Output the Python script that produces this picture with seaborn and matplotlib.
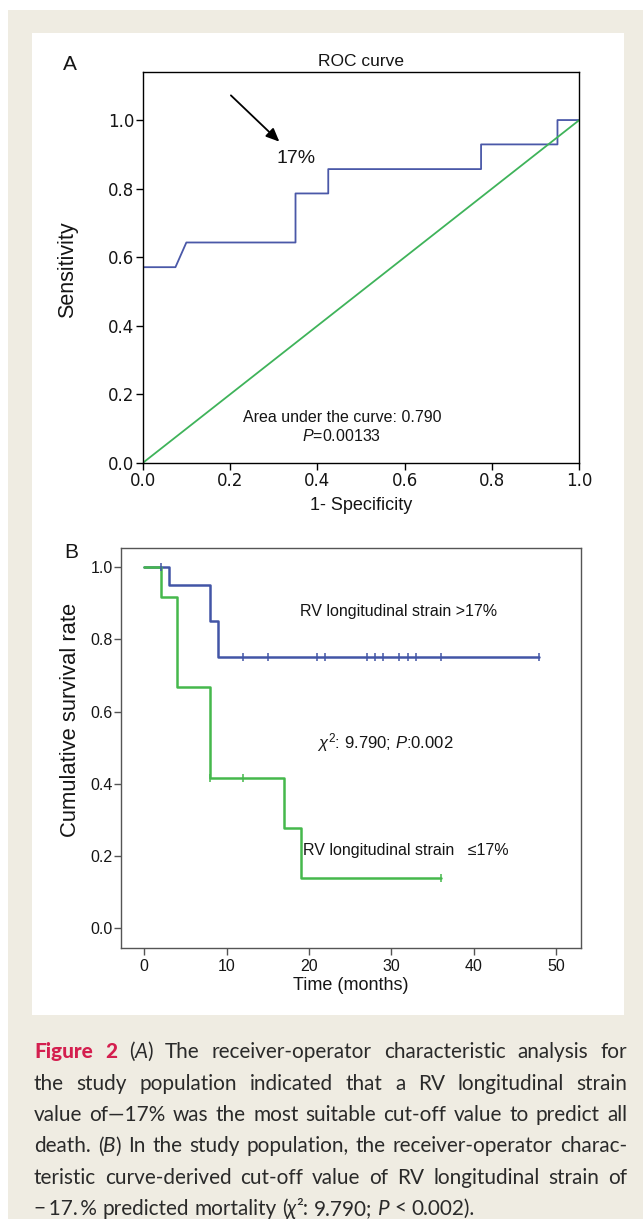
import re
import numpy as np
import pandas as pd
import matplotlib
matplotlib.use("Agg")
import matplotlib.pyplot as plt
import seaborn as sns
from matplotlib.patches import Rectangle

# ---------------- data ----------------
roc_fpr = [0.0, 0.0, 0.075, 0.100, 0.350, 0.350, 0.425, 0.425, 0.775, 0.775, 0.950, 0.950, 1.0]
roc_tpr = [0.0, 0.571, 0.571, 0.643, 0.643, 0.786, 0.786, 0.857, 0.857, 0.929, 0.929, 1.0, 1.0]
ref_line = [0.0, 1.0]
roc_ticks = [0.0, 0.2, 0.4, 0.6, 0.8, 1.0]

km_high_time = [0, 3, 8, 9, 48]
km_high_surv = [1.0, 0.95, 0.85, 0.75, 0.75]
km_high_cens = [2, 12, 15, 21, 22, 27, 28, 29, 31, 32, 33, 36, 48]
km_low_time = [0, 2, 4, 8, 17, 19, 36]
km_low_surv = [1.0, 0.917, 0.667, 0.417, 0.278, 0.139, 0.139]
km_low_cens = [8, 12, 36]
km_xticks = [0, 10, 20, 30, 40, 50]
km_yticks = [0.0, 0.2, 0.4, 0.6, 0.8, 1.0]

caption_lines = [
    "**Figure** **2** (_A_) The receiver-operator characteristic analysis for",
    "the study population indicated that a RV longitudinal strain",
    "value of\u201417% was the most suitable cut-off value to predict all",
    "death. (_B_) In the study population, the receiver-operator charac-",
    "teristic curve-derived cut-off value of RV longitudinal strain of",
    "\u2212\u200917.\u2009% predicted mortality (_\u03c7_\u00b2: 9.790; _P_ < 0.002).",
]

# ---------------- style ----------------
sns.set_style("white")
plt.rcParams['font.family'] = ['Liberation Sans', 'DejaVu Sans']
plt.rcParams['mathtext.fontset'] = 'custom'
plt.rcParams['mathtext.rm'] = 'Liberation Sans'
plt.rcParams['mathtext.it'] = 'Liberation Sans:italic'
plt.rcParams['mathtext.bf'] = 'Liberation Sans:bold'

BLUE_A = "#4a58a8"
GREEN_A = "#3fb35a"
BLUE_B = "#4255a6"
GREEN_B = "#45b84c"
BEIGE = "#efece2"
RED = "#d41f4f"
INK = "#151515"

W, H = 643, 1219
fig = plt.figure(figsize=(W / 100, H / 100), dpi=100, facecolor="white")


def fx(px):
    return px / W


def fy(py):
    return 1 - py / H


fig.patches.append(Rectangle((fx(8), 0), 1 - fx(8), fy(10), transform=fig.transFigure,
                             facecolor=BEIGE, edgecolor="none", zorder=-10))
fig.patches.append(Rectangle((fx(32), fy(1015)), fx(624) - fx(32), fy(33) - fy(1015),
                             transform=fig.transFigure, facecolor="white", edgecolor="none", zorder=-9))

# ---------------- panel A: ROC ----------------
a_l, a_r, a_t, a_b = 142.7, 579.3, 71.7, 463.0
axA = fig.add_axes([fx(a_l), fy(a_b), fx(a_r) - fx(a_l), fy(a_t) - fy(a_b)])
axA.set_facecolor("none")
sns.lineplot(x=roc_fpr, y=roc_tpr, sort=False, estimator=None, color=BLUE_A, lw=1.3, ax=axA)
sns.lineplot(x=ref_line, y=ref_line, sort=False, estimator=None, color=GREEN_A, lw=1.3, ax=axA)
axA.set_xlim(0, 1.0)
axA.set_ylim(0, 1.141)
axA.set_xticks(roc_ticks)
axA.set_yticks(roc_ticks)
axA.set_xticklabels([f"{v:.1f}" for v in roc_ticks], family="DejaVu Sans", fontsize=12)
axA.set_yticklabels([f"{v:.1f}" for v in roc_ticks], family="DejaVu Sans", fontsize=12)
axA.tick_params(axis="both", direction="out", length=5, width=1.0, color="black",
                left=True, bottom=True, labelcolor=INK)
axA.tick_params(axis="y", pad=1)
axA.tick_params(axis="x", pad=1.5)
for sp in axA.spines.values():
    sp.set_visible(True)
    sp.set_color("black")
    sp.set_linewidth(1.0)
axA.set_title("ROC curve", fontsize=12.5, pad=4, color=INK)
axA.set_xlabel("1- Specificity", fontsize=13, va="center", color=INK)
axA.xaxis.set_label_coords(0.5, -(505 - a_b) / (a_b - a_t))
axA.set_ylabel("Sensitivity", fontsize=15.5, va="center", color=INK)
axA.yaxis.set_label_coords((68 - a_l) / (a_r - a_l), (a_b - 270) / (a_b - a_t))

axA.annotate("", xy=(0.313, 0.937), xytext=(0.202, 1.072),
             arrowprops=dict(arrowstyle="-|>,head_length=0.8,head_width=0.35", color="black", lw=1.3,
                             shrinkA=0, shrinkB=0))
axA.text(0.351, 0.887, "17%", fontsize=14, ha="center", va="center", color=INK)
axA.text(0.456, 0.133, "Area under the curve: 0.790", fontsize=11.5, ha="center", va="center",
         color=INK)
axA.text(0.456, 0.078, r"$P$=0.00133", fontsize=11.5, ha="center", va="center", color=INK)

fig.text(fx(70), fy(65), "A", fontsize=15, ha="center", va="center", color=INK)

# ---------------- panel B: Kaplan-Meier ----------------
b_l, b_r, b_t, b_b = 121.0, 581.0, 548.0, 948.3
axB = fig.add_axes([fx(b_l), fy(b_b), fx(b_r) - fx(b_l), fy(b_t) - fy(b_b)])
axB.set_facecolor("none")


def step_value(times, surv, t):
    idx = np.searchsorted(np.asarray(times), np.asarray(t), side="right") - 1
    return np.asarray(surv)[idx]


sns.lineplot(x=km_high_time, y=km_high_surv, drawstyle="steps-post", sort=False, estimator=None,
             color=BLUE_B, lw=1.8, ax=axB)
sns.lineplot(x=km_low_time, y=km_low_surv, drawstyle="steps-post", sort=False, estimator=None,
             color=GREEN_B, lw=1.8, ax=axB)
sns.scatterplot(x=km_high_cens, y=step_value(km_high_time, km_high_surv, km_high_cens),
                marker="|", s=30, color=BLUE_B, linewidth=1.1, ax=axB, zorder=5)
sns.scatterplot(x=km_low_cens, y=step_value(km_low_time, km_low_surv, km_low_cens),
                marker="|", s=30, color=GREEN_B, linewidth=1.1, ax=axB, zorder=5)

axB.set_xlim(-2.83, 53.06)
axB.set_ylim(-0.055, 1.053)
axB.set_xticks(km_xticks)
axB.set_yticks(km_yticks)
axB.set_xticklabels([str(v) for v in km_xticks], fontsize=11.5)
axB.set_yticklabels([f"{v:.1f}" for v in km_yticks], fontsize=11.5)
axB.tick_params(axis="both", direction="out", length=5, width=1.0, color="#555555",
                left=True, bottom=True, labelcolor=INK)
axB.tick_params(axis="y", pad=1)
axB.tick_params(axis="x", pad=3)
for sp in axB.spines.values():
    sp.set_visible(True)
    sp.set_color("#555555")
    sp.set_linewidth(1.0)
axB.set_xlabel("Time (months)", fontsize=13, va="center", color=INK)
axB.xaxis.set_label_coords(0.5, -(985 - b_b) / (b_b - b_t))
axB.set_ylabel("Cumulative survival rate", fontsize=15.8, va="center", color=INK)
axB.yaxis.set_label_coords((70 - b_l) / (b_r - b_l), (b_b - 720) / (b_b - b_t))

axB.text(30.9, 0.876, "RV longitudinal strain >17%", fontsize=11.5, ha="center", va="center",
         color=INK)
axB.text(29.3, 0.515, r"$\chi^{2}$: 9.790; $P$:0.002", fontsize=12, ha="center", va="center",
         color=INK)
axB.text(19.3, 0.217, "RV longitudinal strain   \u226417%", fontsize=11.5, ha="left", va="center",
         color=INK, family=["Liberation Sans", "DejaVu Sans"])

fig.text(fx(71), fy(553), "B", fontsize=15, ha="center", va="center", color=INK)

# ---------------- caption (justified) ----------------
renderer = fig.canvas.get_renderer()
CAP_FAM = ["Lato", "DejaVu Sans"]
CAP_COLOR = "#2a2a2a"


def seg_props(kind, size):
    if kind == "b":
        return dict(family=CAP_FAM, fontsize=size, weight="black", color=RED)
    if kind == "i":
        return dict(family=CAP_FAM, fontsize=size, style="italic", color=CAP_COLOR)
    return dict(family=CAP_FAM, fontsize=size, color=CAP_COLOR)


def parse_word(word):
    segs = []
    for part in re.split(r"(\*\*[^*]+\*\*|_[^_]+_)", word):
        if not part:
            continue
        if part.startswith("**"):
            segs.append((part[2:-2], "b"))
        elif part.startswith("_") and len(part) > 2:
            segs.append((part[1:-1], "i"))
        else:
            segs.append((part, "n"))
    return segs


def measure(s, props):
    t = fig.text(0, 0, s, **props)
    w = t.get_window_extent(renderer).width
    t.remove()
    return w


parsed = [[parse_word(w) for w in line.split(" ")] for line in caption_lines]


def line_width(words, size):
    total = 0
    for w in words:
        for s, k in w:
            total += measure(s, seg_props(k, size))
    space = measure("a a", seg_props("n", size)) - measure("aa", seg_props("n", size))
    return total + space * (len(words) - 1)


cap_left, cap_right = 34.0, 627.0
avail = cap_right - cap_left
base_size = 14.0
widest = max(line_width(w, base_size) for w in parsed[:-1])
cap_size = base_size * avail * 0.985 / widest

baselines = [1058, 1089.5, 1121, 1152.5, 1184, 1215]
space_w = measure("a a", seg_props("n", cap_size)) - measure("aa", seg_props("n", cap_size))
for li, words in enumerate(parsed):
    widths = [[measure(s, seg_props(k, cap_size)) for s, k in w] for w in words]
    word_w = [sum(ws) for ws in widths]
    if li < len(parsed) - 1 and len(words) > 1:
        gap = (avail - sum(word_w)) / (len(words) - 1)
    else:
        gap = space_w
    x = cap_left
    for w, ws in zip(words, widths):
        xx = x
        for (s, k), sw in zip(w, ws):
            fig.text(fx(xx), fy(baselines[li]), s, ha="left", va="baseline", **seg_props(k, cap_size))
            xx += sw
        x += sum(ws) + gap

fig.savefig("out.png", dpi=100, facecolor=fig.get_facecolor())
